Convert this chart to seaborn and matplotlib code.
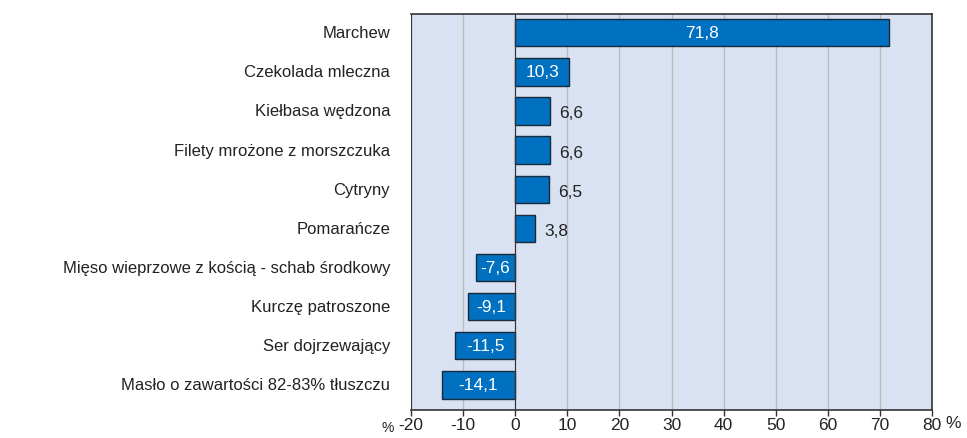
import pandas as pd
import seaborn as sns
import matplotlib.pyplot as plt
from matplotlib.transforms import blended_transform_factory

# data
products = ["Marchew", "Czekolada mleczna", "Kiełbasa wędzona",
            "Filety mrożone z morszczuka", "Cytryny", "Pomarańcze",
            "Mięso wieprzowe z kością - schab środkowy", "Kurczę patroszone",
            "Ser dojrzewający", "Masło o zawartości 82-83% tłuszczu"]
changes = [71.8, 10.3, 6.6, 6.6, 6.5, 3.8, -7.6, -9.1, -11.5, -14.1]
xticks = [-20, -10, 0, 10, 20, 30, 40, 50, 60, 70, 80]

df = pd.DataFrame({"product": products, "change": changes})

sns.set_style("white")
plt.rcParams['font.family'] = ['Liberation Sans', 'DejaVu Sans']
plt.rcParams['font.size'] = 12

fig = plt.figure(figsize=(9.67, 4.39), dpi=100)
ax = fig.add_axes([0.425, 0.063, 0.539, 0.903])
ax.set_facecolor("#D9E2F3")

sns.barplot(data=df, x="change", y="product", color="#0070C0", saturation=1,
            width=0.7, edgecolor="#1A2A3A", linewidth=1, ax=ax, zorder=3)

ax.set_xlim(-20, 80)
ax.set_ylim(9.65, -0.48)
ax.set_xticks(xticks)
ax.set_xticklabels([str(t) for t in xticks], fontsize=12.5, color="#222222")
ax.grid(axis="x", color="#BBBBBB", linewidth=1, zorder=0)
ax.set_axisbelow(True)
ax.set_xlabel("")
ax.set_ylabel("")

# zero line carries the category ticks, names sit at the left edge
ax.spines['left'].set_position(('data', 0))
ax.spines['left'].set_zorder(4)
ax.tick_params(axis='y', length=5, width=1, color="#333333", labelleft=False)
ax.tick_params(axis='x', length=4, width=1, color="#333333", bottom=True, pad=1)
ax.axvline(-20, color="#333333", linewidth=1.5, zorder=5)
for s in ['top', 'right', 'bottom']:
    ax.spines[s].set_color("#333333")
    ax.spines[s].set_linewidth(1.2)
ax.spines['left'].set_color("#333333")

trans = blended_transform_factory(ax.transAxes, ax.transData)
for i, name in enumerate(products):
    ax.text(-0.04, i, name, transform=trans, ha="right", va="center",
            fontsize=12, color="#222222")

# value labels
for i, v in enumerate(changes):
    lbl = f"{v:.1f}".replace(".", ",")
    if v > 10 or v < 0:
        ax.text(v / 2, i, lbl, ha="center", va="center", color="white",
                fontsize=12.5, zorder=6)
    else:
        ax.text(v + 1.8, i + 0.05, lbl, ha="left", va="center", color="#222222",
                fontsize=12.5, zorder=6)

ax.text(-0.045, -0.025, "%", transform=ax.transAxes, ha="center", va="top",
        fontsize=10, color="#222222")
ax.text(1.04, -0.012, "%", transform=ax.transAxes, ha="center", va="top",
        fontsize=12.5, color="#222222")

fig.savefig("out.png", dpi=100)
